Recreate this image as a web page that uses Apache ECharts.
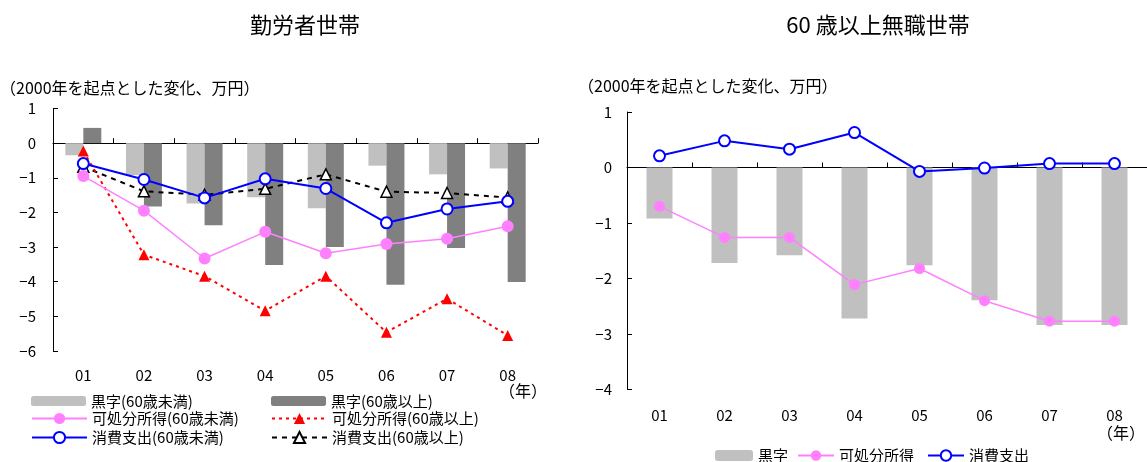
<!DOCTYPE html>
<html>
<head>
<meta charset="utf-8">
<script src="https://cdn.jsdelivr.net/npm/echarts@6/dist/echarts.min.js"></script>
<style>
  html, body { margin: 0; padding: 0; background: #fff; }
  #chart { width: 1147px; height: 462px; }
</style>
</head>
<body>
<div id="chart"></div>
<script>
// Years (2001–2008), change since 2000 in 10k yen
const years = ['01', '02', '03', '04', '05', '06', '07', '08'];

// Worker households
const surplusUnder60 = [-0.35, -0.92, -1.74, -1.56, -1.88, -0.65, -0.90, -0.73];
const surplusOver60  = [0.44, -1.83, -2.37, -3.52, -3.00, -4.09, -3.03, -4.01];
const incomeUnder60  = [-0.95, -1.95, -3.33, -2.56, -3.18, -2.91, -2.76, -2.40];
const incomeOver60   = [-0.23, -3.22, -3.84, -4.84, -3.84, -5.46, -4.49, -5.55];
const spendUnder60   = [-0.59, -1.05, -1.58, -1.03, -1.31, -2.30, -1.90, -1.68];
const spendOver60    = [-0.68, -1.39, -1.49, -1.32, -0.90, -1.40, -1.44, -1.57];

// Unemployed households aged 60+
const surplusRetired = [-0.92, -1.72, -1.58, -2.72, -1.76, -2.39, -2.84, -2.84];
const incomeRetired  = [-0.70, -1.26, -1.26, -2.11, -1.82, -2.40, -2.77, -2.77];
const spendRetired   = [0.21, 0.48, 0.33, 0.63, -0.07, -0.01, 0.07, 0.07];

const leftTicks  = [1, 0, -1, -2, -3, -4, -5, -6];
const rightTicks = [1, 0, -1, -2, -3, -4];

const FONT = '"Noto Sans CJK JP", "Noto Sans", sans-serif';
const LIGHT = '#c0c0c0', DARK = '#808080', PINK = '#ff80ff', BLUE = '#0000ff', RED = '#ff0000';

const fmt = v => (v < 0 ? '\u2212' + Math.abs(v) : String(v));

function yAxisFor(grid, ticks, margin) {
  return {
    type: 'value', gridIndex: grid,
    min: ticks[ticks.length - 1], max: ticks[0], interval: 1,
    splitLine: { show: false },
    axisLine: { show: true, lineStyle: { color: '#000', width: 1 } },
    axisTick: { show: true, inside: true, length: 5, lineStyle: { color: '#000' } },
    axisLabel: { color: '#000', fontSize: 15, fontFamily: FONT, margin: margin, formatter: fmt }
  };
}

// Category labels sit at the bottom of the plot
function labelAxis(grid, margin) {
  return {
    type: 'category', gridIndex: grid, data: years, position: 'bottom',
    axisLine: { show: false, onZero: false },
    axisTick: { show: false },
    axisLabel: { color: '#000', fontSize: 15, fontFamily: FONT, margin: margin }
  };
}

// The horizontal axis line itself runs through zero
function zeroAxis(grid) {
  return {
    type: 'category', gridIndex: grid, data: years, position: 'bottom',
    axisLine: { show: true, onZero: true, lineStyle: { color: '#000', width: 1 } },
    axisTick: { show: true, inside: true, length: 5, lineStyle: { color: '#000' } },
    axisLabel: { show: false }
  };
}

function legendAt(name, left, top, w, h, size) {
  return {
    data: [name], left: left, top: top, padding: 0,
    itemWidth: w, itemHeight: h,
    textStyle: { color: '#000', fontSize: size, lineHeight: 16, fontFamily: FONT },
    selectedMode: false
  };
}

const option = {
  animation: false,
  backgroundColor: '#fff',
  title: [
    { text: '勤労者世帯', left: 300, top: 9, textAlign: 'center',
      textStyle: { fontSize: 22, fontWeight: 'normal', color: '#000', fontFamily: FONT } },
    { text: '60 歳以上無職世帯', left: 873, top: 9, textAlign: 'center',
      textStyle: { fontSize: 22, fontWeight: 'normal', color: '#000', fontFamily: FONT } }
  ],
  grid: [
    { left: 53, right: 609, top: 108.5, height: 242.5 },
    { left: 627, right: 0, top: 112, height: 277.5 }
  ],
  xAxis: [labelAxis(0, 17), zeroAxis(0), labelAxis(1, 18), zeroAxis(1)],
  yAxis: [yAxisFor(0, leftTicks, 17), yAxisFor(1, rightTicks, 15)],
  legend: [
    legendAt('黒字(60歳未満)', 31, 393, 55, 10, 15),
    legendAt('黒字(60歳以上)', 271, 393, 55, 10, 15),
    legendAt('可処分所得(60歳未満)', 31, 410.5, 55, 14, 15),
    legendAt('可処分所得(60歳以上)', 271, 410.5, 55, 14, 15),
    legendAt('消費支出(60歳未満)', 31, 429.5, 55, 14, 15),
    legendAt('消費支出(60歳以上)', 271, 429.5, 55, 14, 15),
    legendAt('黒字', 715, 447.5, 38, 11, 15),
    legendAt('可処分所得', 797, 447.5, 36, 13, 15),
    legendAt('消費支出', 927, 447.5, 36, 13, 15)
  ],
  graphic: [
    { type: 'text', left: 0, top: 80,
      style: { text: '（2000年を起点とした変化、万円）', fill: '#000', font: '16px ' + FONT } },
    { type: 'text', left: 578, top: 78,
      style: { text: '（2000年を起点とした変化、万円）', fill: '#000', font: '16px ' + FONT } },
    { type: 'text', left: 499, top: 383,
      style: { text: '（年）', fill: '#000', font: '16px ' + FONT } },
    { type: 'text', left: 1097, top: 425,
      style: { text: '（年）', fill: '#000', font: '16px ' + FONT } }
  ],
  series: [
    { name: '黒字(60歳未満)', type: 'bar', xAxisIndex: 0, yAxisIndex: 0,
      data: surplusUnder60, barWidth: 18, barGap: '0%', itemStyle: { color: LIGHT } },
    { name: '黒字(60歳以上)', type: 'bar', xAxisIndex: 0, yAxisIndex: 0,
      data: surplusOver60, barWidth: 18, barGap: '0%', itemStyle: { color: DARK } },
    { name: '消費支出(60歳以上)', type: 'line', xAxisIndex: 0, yAxisIndex: 0,
      data: spendOver60, symbol: 'triangle', symbolSize: 11,
      lineStyle: { color: '#000', width: 2, type: [5, 5] },
      itemStyle: { color: '#fff', borderColor: '#000', borderWidth: 1.5 } },
    { name: '可処分所得(60歳以上)', type: 'line', xAxisIndex: 0, yAxisIndex: 0,
      data: incomeOver60, symbol: 'triangle', symbolSize: 11,
      lineStyle: { color: RED, width: 2, type: [3, 4] },
      itemStyle: { color: RED, borderWidth: 0 } },
    { name: '可処分所得(60歳未満)', type: 'line', xAxisIndex: 0, yAxisIndex: 0,
      data: incomeUnder60, symbol: 'circle', symbolSize: 12,
      lineStyle: { color: PINK, width: 1.5 },
      itemStyle: { color: PINK, borderWidth: 0 } },
    { name: '消費支出(60歳未満)', type: 'line', xAxisIndex: 0, yAxisIndex: 0,
      data: spendUnder60, symbol: 'circle', symbolSize: 11,
      lineStyle: { color: BLUE, width: 2 },
      itemStyle: { color: '#fff', borderColor: BLUE, borderWidth: 2 } },

    { name: '黒字', type: 'bar', xAxisIndex: 2, yAxisIndex: 1,
      data: surplusRetired, barWidth: 26, itemStyle: { color: LIGHT } },
    { name: '可処分所得', type: 'line', xAxisIndex: 2, yAxisIndex: 1,
      data: incomeRetired, symbol: 'circle', symbolSize: 11,
      lineStyle: { color: PINK, width: 1.5 },
      itemStyle: { color: PINK, borderWidth: 0 } },
    { name: '消費支出', type: 'line', xAxisIndex: 2, yAxisIndex: 1,
      data: spendRetired, symbol: 'circle', symbolSize: 11,
      lineStyle: { color: BLUE, width: 2 },
      itemStyle: { color: '#fff', borderColor: BLUE, borderWidth: 2 } }
  ]
};

const chart = echarts.init(document.getElementById('chart'), null, { renderer: 'canvas' });
chart.setOption(option);
</script>
</body>
</html>
